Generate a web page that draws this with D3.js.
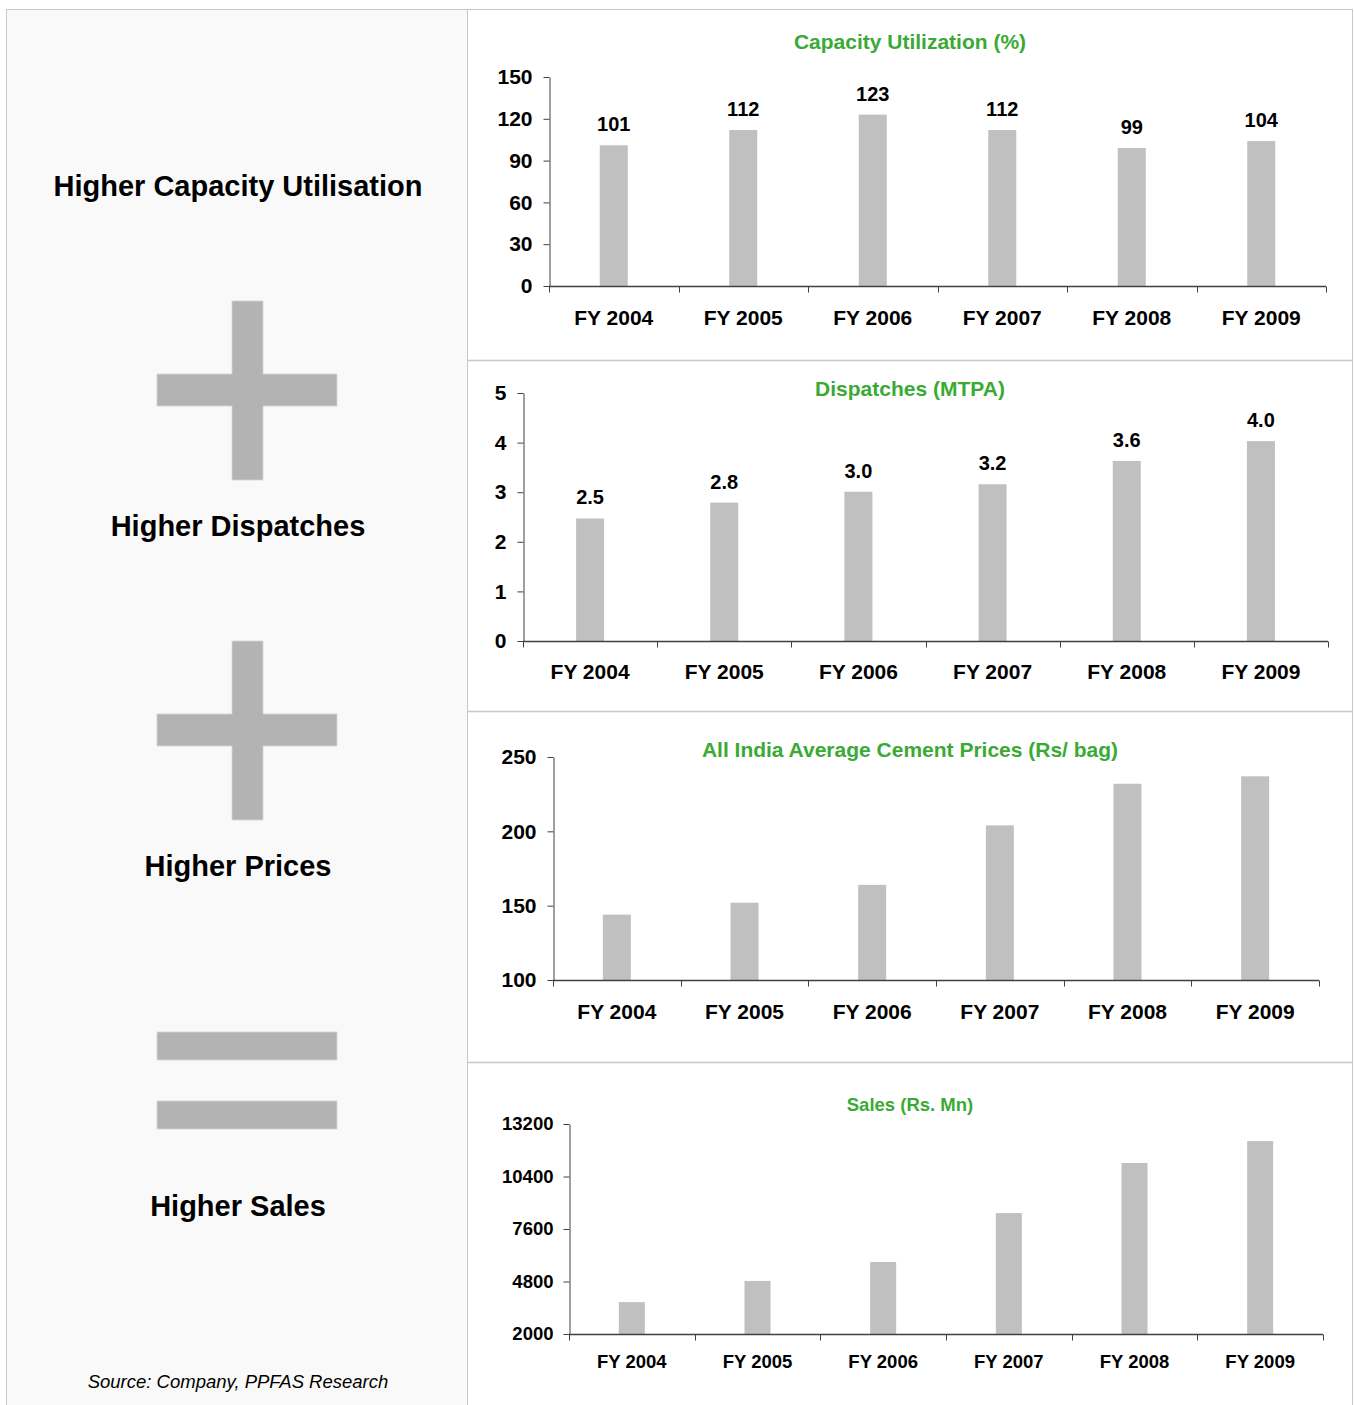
<!DOCTYPE html>
<html>
<head>
<meta charset="utf-8">
<script src="https://cdn.jsdelivr.net/npm/d3@7"></script>
<style>
  html, body { margin: 0; padding: 0; background: #ffffff; }
  svg { display: block; font-family: "Liberation Sans", Arial, sans-serif; }
</style>
</head>
<body>
<svg id="chart" width="1354" height="1405"></svg>
<script>
// ---------- DATA ----------
const categories = ["FY 2004", "FY 2005", "FY 2006", "FY 2007", "FY 2008", "FY 2009"];
const capacityUtilization = [101, 112, 123, 112, 99, 104];
const dispatches = [2.47, 2.79, 3.01, 3.16, 3.63, 4.03];
const cementPrices = [144, 152, 164, 204, 232, 237];
const sales = [3700, 4830, 5840, 8450, 11120, 12290];
const capacityTicks = [0, 30, 60, 90, 120, 150];
const dispatchTicks = [0, 1, 2, 3, 4, 5];
const priceTicks = [100, 150, 200, 250];
const salesTicks = [2000, 4800, 7600, 10400, 13200];
const leftLabels = ["Higher Capacity Utilisation", "Higher Dispatches", "Higher Prices", "Higher Sales"];
const chartTitles = ["Capacity Utilization (%)", "Dispatches (MTPA)", "All India Average Cement Prices (Rs/ bag)", "Sales (Rs. Mn)"];
const sourceNote = "Source: Company, PPFAS Research";

// ---------- LAYOUT ----------
const svg = d3.select("#chart");
const GREEN = "#3aaa35";
const BAR = "#c0c0c0";
const AXIS = "#404040";
const BORDER = "#c8c8c8";

// left panel
svg.append("rect").attr("x", 6.5).attr("y", 9.5).attr("width", 461).attr("height", 1420)
  .attr("fill", "#f9f9f9").attr("stroke", BORDER);
// right panels
svg.append("rect").attr("x", 467.5).attr("y", 9.5).attr("width", 885).attr("height", 1420)
  .attr("fill", "#ffffff").attr("stroke", BORDER);
[360.5, 711.5, 1062.5].forEach(y => {
  svg.append("line").attr("x1", 467.5).attr("x2", 1352.5).attr("y1", y).attr("y2", y)
    .attr("stroke", BORDER).attr("stroke-width", 1.5);
});

// left labels
const leftY = [186, 526, 866, 1206];
leftLabels.forEach((t, i) => {
  svg.append("text").attr("x", 238).attr("y", leftY[i]).attr("dy", "0.35em")
    .attr("text-anchor", "middle").attr("font-size", 29).attr("font-weight", "bold")
    .attr("fill", "#000").text(t);
});

// plus / equals signs
const SIGN = "#b3b3b3";
function plus(top) {
  const l = 157, r = 337, vl = 232, vr = 263, hb = top + 73, he = top + 105, b = top + 179;
  const p = d3.path();
  p.moveTo(vl, top); p.lineTo(vr, top); p.lineTo(vr, hb); p.lineTo(r, hb); p.lineTo(r, he);
  p.lineTo(vr, he); p.lineTo(vr, b); p.lineTo(vl, b); p.lineTo(vl, he); p.lineTo(l, he);
  p.lineTo(l, hb); p.lineTo(vl, hb); p.closePath();
  svg.append("path").attr("d", p.toString()).attr("fill", SIGN)
    .attr("stroke", "#d4d4d4").attr("stroke-width", 0.8);
}
plus(301);
plus(641);
[1032, 1101].forEach(y => {
  svg.append("rect").attr("x", 157).attr("y", y).attr("width", 180).attr("height", 28)
    .attr("fill", SIGN).attr("stroke", "#d4d4d4").attr("stroke-width", 0.8);
});

svg.append("text").attr("x", 238).attr("y", 1382).attr("dy", "0.35em")
  .attr("text-anchor", "middle").attr("font-size", 18.5).attr("font-style", "italic")
  .attr("fill", "#000").text(sourceNote);

// ---------- CHARTS ----------
const charts = [
  { title: chartTitles[0], values: capacityUtilization, ticks: capacityTicks, domain: [0, 150],
    x0: 549, x1: 1326, yb: 286, yt: 77, titleY: 42, barW: 28, fs: 21, labelDy: 32, pad: 11,
    valueFmt: d3.format("d") },
  { title: chartTitles[1], values: dispatches, ticks: dispatchTicks, domain: [0, 5],
    x0: 523, x1: 1328, yb: 641, yt: 393, titleY: 389, barW: 28, fs: 21, labelDy: 31, pad: 11,
    valueFmt: d3.format(".1f") },
  { title: chartTitles[2], values: cementPrices, ticks: priceTicks, domain: [100, 250],
    x0: 553, x1: 1319, yb: 980, yt: 757, titleY: 750, barW: 28, fs: 21, labelDy: 32, pad: 11,
    valueFmt: null },
  { title: chartTitles[3], values: sales, ticks: salesTicks, domain: [2000, 13200],
    x0: 569, x1: 1323, yb: 1334, yt: 1124, titleY: 1105, barW: 26, fs: 18.5, labelDy: 28, pad: 10,
    valueFmt: null }
];

charts.forEach(c => {
  const g = svg.append("g");
  const x = d3.scaleBand().domain(categories).range([c.x0, c.x1]).padding(0);
  const y = d3.scaleLinear().domain(c.domain).range([c.yb, c.yt]);

  // title
  g.append("text").attr("x", 910).attr("y", c.titleY).attr("dy", "0.35em")
    .attr("text-anchor", "middle").attr("font-size", c.fs).attr("font-weight", "bold")
    .attr("fill", GREEN).text(c.title);

  // bars
  g.selectAll("rect.bar").data(c.values).join("rect").attr("class", "bar")
    .attr("x", (d, i) => x(categories[i]) + x.bandwidth() / 2 - c.barW / 2)
    .attr("width", c.barW)
    .attr("y", d => y(d))
    .attr("height", d => y(c.domain[0]) - y(d))
    .attr("fill", BAR);

  // value labels
  if (c.valueFmt) {
    g.selectAll("text.val").data(c.values).join("text").attr("class", "val")
      .attr("x", (d, i) => x(categories[i]) + x.bandwidth() / 2)
      .attr("y", d => y(d) - 21).attr("dy", "0.35em")
      .attr("text-anchor", "middle").attr("font-size", 20).attr("font-weight", "bold")
      .attr("fill", "#000").text(d => c.valueFmt(d));
  }

  // y axis
  const ya = g.append("g").attr("transform", `translate(${c.x0 + 0.5},0)`)
    .call(d3.axisLeft(y).tickValues(c.ticks).tickFormat(d3.format("d"))
      .tickSize(6).tickPadding(c.pad).tickSizeOuter(0));
  ya.select(".domain").attr("stroke", AXIS);
  ya.selectAll(".tick line").attr("stroke", AXIS);
  ya.selectAll(".tick text").attr("font-size", c.fs).attr("font-weight", "bold")
    .attr("fill", "#000").attr("font-family", "Liberation Sans, Arial, sans-serif");

  // x axis: baseline, boundary ticks, centered labels
  const base = Math.round(c.yb) + 0.5;
  g.append("line").attr("x1", c.x0).attr("x2", c.x1).attr("y1", base).attr("y2", base)
    .attr("stroke", AXIS).attr("stroke-width", 1.5);
  const bounds = categories.map(d => x(d)).concat([c.x1]);
  g.selectAll("line.xt").data(bounds).join("line").attr("class", "xt")
    .attr("x1", d => Math.round(d) + 0.5).attr("x2", d => Math.round(d) + 0.5)
    .attr("y1", base).attr("y2", base + 6).attr("stroke", AXIS);
  g.selectAll("text.xl").data(categories).join("text").attr("class", "xl")
    .attr("x", d => x(d) + x.bandwidth() / 2).attr("y", c.yb + c.labelDy).attr("dy", "0.35em")
    .attr("text-anchor", "middle").attr("font-size", c.fs).attr("font-weight", "bold")
    .attr("fill", "#000").text(d => d);
});
</script>
</body>
</html>
